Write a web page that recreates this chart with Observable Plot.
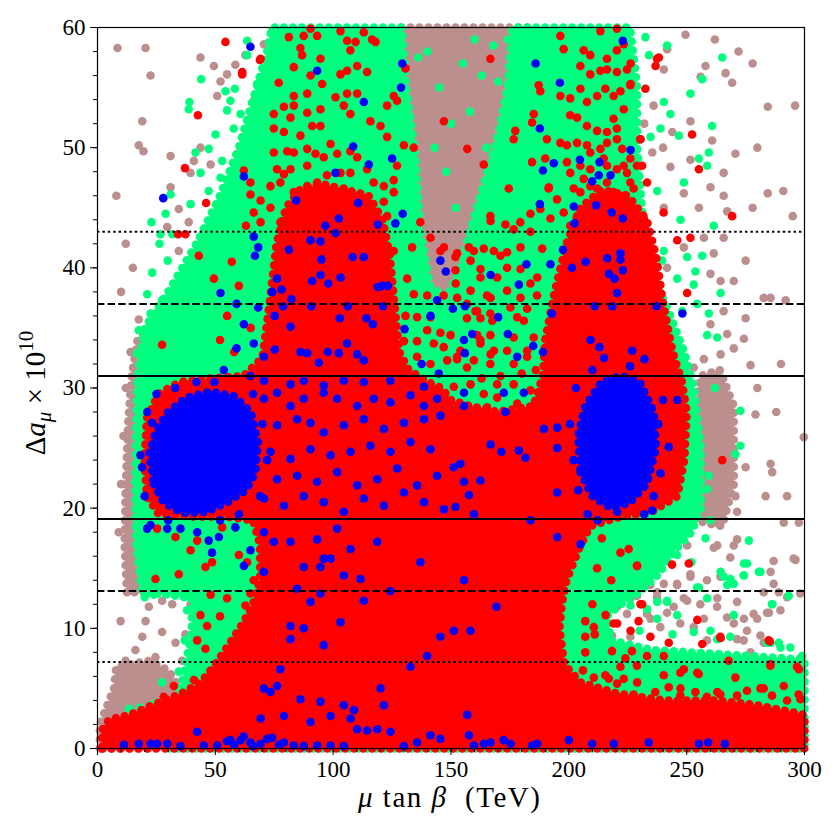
<!DOCTYPE html>
<html><head><meta charset="utf-8">
<script src="https://cdn.jsdelivr.net/npm/d3@7"></script>
<script src="https://cdn.jsdelivr.net/npm/@observablehq/plot@0.6"></script>
<style>body{margin:0;background:#fff} svg{display:block}</style>
</head><body><div id="chart"></div>
<script>
// ---- axes ----
const xTicks = [0,50,100,150,200,250,300];
const yTicks = [0,10,20,30,40,50,60];
const xMinor = d3.range(0,301,10);
const yMinor = d3.range(0,61,2);
// reference bands (1σ solid, 2σ dashed, 3σ dotted)
const refSolid = [19.1, 31.0];
const refDashed = [13.1, 37.0];
const refDotted = [7.2, 43.0];

// ---- dense regions (outlines of crowded point clouds), [x TeV, y] ----
const brownLow = [[1,0],[1,2],[4,3.5],[7,5],[8,6.8],[14,7],[22,7.3],[30,6.5],[35,5],[33,3],[25,0]];
const brownStrip = [[12.5,13],[11.5,17],[12,22],[13,27],[14.5,31],[17,34],[22,35],[22,13]];
const brownTop = [[129,60],[184,60],[180,55],[175,51],[168,48],[162,45],[157,41],[150,37.5],[143,37],[138,40],[136,46],[134,51],[131,56]];
const brownRight = [[253,19],[265,18.5],[270,22],[270,28.5],[264,31.5],[256,31],[252,26]];
const greenBody = [[30,3],[36,5.5],[38,7.5],[40,10],[40,12.5],[30,12.8],[19,13],[16.5,17],[16,22],[16.5,27],[17,31],[20,35],[30,38],[42,42],[52,46],[60,50],[66,54],[72,58],[74,60],[129,60],[131,55],[135,49],[137,43],[141,38.5],[148,37.5],[154,40],[158,43],[164,47],[170,51],[174,55],[176,60],[226,60],[229,55],[229,50],[231,45],[234,40],[242,36.5],[249,33],[253,30],[256,25],[256,20],[252,18],[245,16.5],[238,14.5],[230,13],[222,12],[216,11],[218,9],[235,8.2],[260,7.9],[300,7.4],[300,0],[30,0]];
const redBody = [[2,0],[300,0],[300,2.8],[280,3.6],[262,4.0],[240,4.0],[220,4.6],[205,5.5],[198,7],[196,10],[197,12],[199,14],[204,16.5],[209,18.5],[220,19.2],[235,19.7],[246,21],[249,24],[250,28],[248,30.5],[244,33],[240,37],[237,41],[233,44],[225,46],[214,46.5],[205,45],[199,42],[194,38],[190,34],[189,31],[185,28.5],[170,28],[158,28.5],[150,29],[146,30],[140,30.5],[132,31.5],[128,33],[126,37],[124,41],[121,44],[115,46],[105,46.5],[95,47],[86,46.5],[80,45],[76,42],[73,37],[70,32.5],[62,31],[48,30.8],[35,30.5],[26,29.5],[21,27.5],[20,24],[21,21],[26,19.5],[40,19.3],[55,19.3],[66,19],[69,17],[69,14],[66,12],[62,10.5],[57,9],[50,7],[44,5.5],[36,4.6],[22,3.5],[14,2.8],[5,2.4],[2,1.5]];
const blueLeft = [[24,22],[28,20.5],[36,19.6],[46,19.7],[55,20.5],[63,21.5],[67,23],[68,25.5],[65,28],[58,29.3],[48,29.7],[38,29.2],[30,28],[25,26.5],[22,24.5]];
const blueRight = [[205,23],[210,21],[218,20],[226,20.5],[233,22],[237,25],[236,28],[230,30.5],[222,31],[214,30.5],[207,28.5],[204,26]];

// ---- scattered points ----
const brownDots = [[20.4,58.3],[19,52.2],[17.5,50.2],[31,49.3],[31,46.7],[34.5,44.9],[38.7,43.8],[52.2,55.5],[55,56.1],[58.5,56.9],[62.8,57.7],[70.6,58.6],[76.9,59.6],[66.6,54.0],[50.8,54.3],[39.5,47.9],[40.9,48.9],[43.7,50.0],[48,48.6],[29.6,43.4],[34.5,41.4],[38.7,40.0],[43.7,36.4],[35.2,35.6],[24.6,36.2],[19.7,33.6],[17.5,35.7],[17.5,32.4],[56.4,32.6],[50.8,43.9],[57.8,43.9],[59.3,49.5],[43.7,57.5],[49.4,56.8],[8.5,58.3],[19.5,49.7],[22.5,56],[8,46],[12,42],[15,40],[10,38],
[131.4,52.5],[138.5,54.7],[145.5,55.9],[134.2,58.3],[147,57.2],[132.8,59.5],[185,58],[188,59.5],[176,57],[125,58.5],[127,55],[136,46],[141,43],[163,49],[166,52],[172,54],[180,58.5],[120,59.5],
[9.8,10.6],[13.3,14.3],[20.4,10.6],[27.4,9.7],[33.1,8.8],[37.3,9.5],[41.6,11.5],[16.1,8.2],[19,9.3],[31.7,12.0],[27.4,12.3],[21.8,11.8],[24.6,7.6],[35.9,7.3],[11.9,7.3],[39.5,12.0],[9,18],[10,22],[11,26],[12,30],[14,33],[44,9],[42,13],
[249.5,59.4],[241.7,58.2],[255.9,55.9],[266.5,56.2],[269.3,55.4],[284.4,53.4],[240.3,56.5],[251.6,52.2],[235.4,49.6],[243.9,51.3],[251.6,49.0],[260.8,50.6],[270.7,49.5],[265.7,47.9],[265.7,46],[284.4,46.2],[260.1,46.7],[255.2,45.0],[267.2,44.7],[248.8,46.2],[243.1,48.4],[240.3,45.0],[257.3,42.5],[265.7,42.5],[275,40.6],[261.5,41.2],[248.8,41.7],[241.7,40.0],[260.1,39.5],[264.4,38.9],[270,38.9],[282.7,37.5],[285.6,37.5],[275,35.8],[265.7,36.4],[260.1,35.3],[267.2,34.5],[274.3,34.1],[270,33.3],[277.1,31.9],[264.4,32.8],[257.3,32.4],[253,31.7],[248.8,32.3],[246,31.0],[262,59],[272,58],[278,57],[258,56.8],[232,52],[236,53.5],[240,50],
[279.2,27.8],[285.6,23.7],[286.3,23.0],[292.6,21.0],[283.5,21.0],[275,23.4],[270.7,21.0],[266.5,22.4],[261.5,24.7],[263,26.9],[267.2,26.9],[268.6,25.2],[265.7,19.7],[271.4,19.7],[261.5,18.8],[271.4,17.4],[263,16.9],[291.2,18.8],[297.6,18.8],[296.2,15.7],[285.6,14.7],[282.7,13.0],[289.1,13.0],[279.9,10.8],[284.9,11.3],[271.4,12.2],[274.3,10.8],[263,12.5],[257.3,10.8],[248.8,12.5],[241.7,11.3],[251.6,14.3],[246,13.6],[237.5,13.0],[226.2,12.5],[220.5,11.9],[234.7,10.8],[271.4,9.1],[277.1,8.0],[282.7,8.8],[299.7,25.9],[298.3,7.5],[271.4,5.2],[257.3,27.4],[260.1,29.1],[292,37.3],[295,44.3],[291,46.4],[296,53.5],[290,32],[288,28],[280,30],[278,45],[280,50],
[233.2,17.2],[241.7,17.0],[250.2,16.9],[261.5,16.7],[270,16.9],[268.5,15.9],[264.3,14.3],[258.6,14.0],[251.6,14.5],[245.9,13.7],[240.3,13.7],[234.6,13.6],[226.1,14.0],[223.3,12.9],[228.9,12.7],[237.4,12.6],[244.5,11.8],[250.2,12.3],[255.8,12.0],[262.9,11.8],[267.1,10.9],[270,10.4],[275.6,9.8],[278.4,11.2],[284.1,11.3],[286.9,13.7],[289.8,11.5],[281.3,9.4],[274.2,9.0],[258.6,9.0],[253,10.1],[247.3,10.4],[238.8,10.1],[233.2,11.2],[224.7,11.2],[220.5,11.8],[218.3,9.4],[226.1,9.3],[213.4,9.0],[295.4,15.8],[286.9,15.6],[292.6,12.6],[298.2,12.9]];

const greenDots = [[44.0,55.7],[39.0,53.8],[38.7,53.2],[54.3,54.7],[58.3,54.9],[67.7,55.3],[63.5,58.9],[72,57.2],[55,53.1],[60.7,52.8],[50.1,51.1],[57.8,51.6],[41.6,49.6],[47.2,49.9],[52.9,48.9],[52.2,47.5],[43.7,47.9],[47.2,46.4],[31,46.1],[39.5,45.3],[28.9,44.5],[22.9,43.8],[26.7,42.8],[31.7,42.8],[26.3,42.0],[29.8,40.6],[39.5,40.6],[23.2,39.6],[21.1,37.8],[27.4,37.3],[33.8,38.1],[42.3,38.4],[22.5,36.2],[29.6,35.6],[38,36.8],[17.5,34.8],[26.7,34.2],[33.8,34.0],[16.8,32.9],[50.8,44.5],[46.5,43.1],[53.6,41.7],[56.4,53.9],[63.5,57.7],[74.1,59.7],[81.9,59.0],
[140,58],[145,55],[150,52],[155,57],[160,59],[148,48],[152,45],[143,50],[158,53],[136,57.5],[168,58.5],[174,59],[128,57],[178,57],[176,53],[170,55.5],[163,56],[165,50],[180,59.5],
[232.5,59.2],[234,57.7],[241.7,58.5],[240.3,53.8],[243.1,52.8],[251.6,54.5],[256.6,55.7],[265.1,57.5],[260.8,51.8],[246.7,51.0],[255.2,49.1],[258.7,48.5],[259.4,49.6],[248.8,47.1],[237.5,46.4],[247.4,44.0],[261.5,43.5],[234.7,50.9],[238.9,51.6],[240.3,41.4],[250.2,40.9],[256.6,41.0],[239.6,40.6],[246,39.1],[253.7,39.7],[253.0,38.6],[236.1,38.5],[264.4,37.9],[254.5,37.0],[248.1,36.4],[259.4,36.2],[237.5,35.5],[243.1,34.5],[258.7,34.4],[263,34.2],[233.2,32.8],[238.9,31.7],
[272.8,28.1],[272.8,25.2],[270.7,24.5],[259.4,22.7],[258.7,21.6],[276.4,17.3],[274.3,15.4],[280.6,14.7],[274.3,14.4],[268.6,14.1],[286.3,12.0],[293.3,12.7],[237.5,12.2],[241.7,12.2],[255.2,13.4],[270.0,11.1],[253.0,9.7],[263,9.1],[285.6,8.8],[289.1,8.8],[299,7.7],[237.5,10.8],[246,11.1],[233.2,11.6],[226.2,11.9],[264.4,14.7],[267.2,13.6],[258.7,12.5],[262,30],[260,19],[245,18.5],
[238.8,16.5],[245.9,16.1],[275.6,15.4],[281.3,14.7],[274.2,14.4],[265.7,14.3],[270,13.7],[254.4,13.4],[286.2,12.0],[241.7,12.3],[260.1,9.8],[268.5,9.3],[284.1,8.8],[289.8,8.4],[294,8.4],[219,14.5],[223.3,15.1],[213.4,14.2],[207.7,15.1],[214.8,15.6],[258,17.5],[252,15.5],[230,9.8],[244,9.5],
[13.3,3.3],[22.5,3.6],[27.4,5.5],[34.5,6.4],[40.9,7.5],[42.3,8.8],[20,12.6],[24,12.8],[43.7,10.5],[14,1.1],[3.4,0.8],[18,3.4],[25,3.8],[37,9],[38,11.5]];

const redDots = [[54.3,58.8],[68.9,57.3],[61.4,56.1],[42.6,52.7],[37.1,48.3],[46.1,45.4],[43.0,41.0],[49.4,39.1],[27.4,33.6],[34.2,42.8],[37.3,42.8],[137.0,43.8],[141.3,42.5],[147.0,52.2],[147.0,41.7],[62.1,48.1],[64.9,46.1],[69.2,45.6],[73.4,45.0],
[90.4,59.9],[103.1,59.7],[113.0,59.6],[81.2,59.2],[87.5,59.3],[93.2,59.3],[105.9,58.9],[109.5,58.8],[116.5,59.0],[118,58.8],[69.2,57.4],[61.4,56.3],[86.1,58.3],[86.8,57.7],[94.6,57.4],[107.3,58.1],[130.7,56.6],[83.3,56.7],[90.4,56.0],[95.3,55.3],[103.1,56.1],[105.9,56.4],[110.2,56.8],[114.4,56.3],[76.9,55.4],[83.3,54.3],[89.0,54.5],[94.6,53.2],[101.0,54.2],[105.9,54.5],[110.2,54.5],[125.7,54.3],[127.1,53.9],[79.1,53.4],[83.3,53.5],[74.8,52.8],[81.9,52.5],[89.0,52.9],[91.1,51.8],[94.6,51.8],[104.5,53.5],[107.3,52.8],[115.8,52.2],[122.9,53.5],[74.8,51.6],[79.1,51.3],[86.1,51.0],[98.9,50.3],[101.7,49.5],[107.3,49.7],[110.2,49.2],[120.1,51.8],[122.9,50.9],[130.0,50.2],[134.2,50.0],[80.5,49.7],[83.3,49.6],[89.0,49.9],[92.5,49.5],[96.0,49.2],[74.8,49.6],[76.2,48.2],[79.1,47.8],[81.9,48.2],[89.0,48.5],[93.2,47.1],[97.4,47.7],[103.1,47.9],[107.3,47.9],[114.4,48.2],[127.1,48.5],[125.7,47.3],[64.9,47.1],[73.4,46.8],[77.6,47.1],[83.3,46.3],[89.0,46.8],[94.6,46.6],[98.9,46.3],[104.5,46.6],[117.2,47.1],[121.5,46.8],[125.7,46.3],[66.3,44.6],[69.2,43.8],[77.6,43.8],[122.9,44.3],[117.2,44.1],[121.5,45.5],
[55,36],[60,38.5],[52,34],[65,35],[57,40.5],[63,43.5],[58,33],
[125.7,41.4],[133.5,41.7],[145.5,41.4],[151.9,40.9],[159.7,41.4],[168.2,41.4],[173.8,41.3],[179.5,41.7],[188.7,41.6],[158.3,40.6],[151.9,39.8],[162.5,39.9],[169.6,39.2],[179.5,39.9],[131.4,39.1],[134.2,37.8],[139.9,37.7],[146.9,37.7],[158.3,38.1],[165.3,37.7],[156.8,37.0],[173.8,38.1],[183.7,38.7],[186.5,37.7],[175.2,36.7],[182.3,36.6],[161.1,36.4],[130.7,36.0],[135.6,35.9],[141.3,35.9],[156.8,35.8],[162.5,35.8],[166.7,36.2],[180.9,35.6],[139.9,34.8],[145.5,34.6],[149.8,34.4],[166.7,34.4],[161.1,34.4],[176.6,34.2],[185.1,34.2],[130,33.9],[135.6,33.9],[142.7,33.7],[146.9,33.4],[154,33.1],[162.5,33.7],[168.2,33.1],[173.8,33.1],[182.3,33.1],[141.3,32.0],[148.4,32.3],[152.6,32.4],[159.7,32.3],[166.7,32.0],[176.6,32.0],[135.6,32.6],[156.8,31.7],[171,31],[180,31.2],[186,31.5],[163,30.8],
[151.2,30.1],[158.3,30.3],[163.9,29.5],[169.6,30.3],[176.6,30.3],[183.7,29.8],[152.6,28.4],[159.7,27.8],[165.3,28.4],[169.6,29.2],[178.1,28.7],[185.1,28.4],
[24.6,14.1],[34.5,14.5],[39.5,16.5],[45.8,15.1],[48.6,15.5],[25.3,18.3],[33.1,17.6],[42.3,17.3],[52.9,18.4],[60,16.1],[63.5,15.5],[66.3,14.0],[64.9,12.9],[62.8,11.9],[42.3,9.0],[45.8,8.3],[48,6.4],[40.9,5.7],[32.4,5.2],[28.1,4.3],[46.5,10.2],[43.7,11.1],[52,11],[55,12.5],[48,12.8],
[265.1,24.0],[243.8,15.3],[250.9,15.4],[229,15.2],[231.1,12.0],[254.5,10.7],[215.6,11.1],[220.5,10.4],[226.2,9.8],[242.4,8.8],[248.8,6.6],[254.5,6.3],[256.6,8.7],[264.4,9.2],[285.3,8.9],[285.6,7.0],[297.6,6.6],[224,7.5],[217,5.8],[223.3,5.8],[229,5.5],[240.3,6.1],[247.4,5.0],[263,4.7],[271.4,4.4],[282.7,5.0],[291.2,5.2],[298.3,4.1],[234.7,4.0],[207,8],[210,12],[212,15],[206,6.5],[214,17.5],[218,14],[211,9.5],
[221.9,16.3],[225.4,16.6],[228.9,15.2],[230.4,12.0],[229.6,10.6],[234.6,9.3],[264.3,9.3],[284.8,9.0],[226.8,8.1],[233.2,7.7],[240.3,7.7],[228.9,6.9],[221.9,6.8],[215.5,6.1],[210.6,5.9],[220.5,5.4],[227.5,4.5],[236.7,4.7],[242.4,5.1],[247.3,4.4],[253.7,4.7],[258.6,4.3],[264.3,4.5],[270.7,5.9],[275.6,4.8],[281.3,5.0],[286.2,4.4],[292.6,4.0],[297.5,4.5],[207,10.6],[207,9.3],[210.6,10.1],[218.3,8.1],[219,10.4],[267.8,7.3],[285.5,6.9],[296.8,6.8],[255.1,6.2],[247.3,6.3],
[238.2,57.5],[236.8,56.8],[226.2,57.0],[226.2,55.3],[252.3,51.1],[255.2,48.2],[269.3,44.3],[230.4,50.7],[231.1,48.5],[156.9,49.9],[163.9,48.6],[174.5,46.6],[191.5,46.7],[183.7,44.5],[166.8,43.9],[173.1,43.6],[157.6,41.7],[163.9,41.6],[171.0,41.0],[152.6,41.2],[152,38.7],[162.5,39.2],[173.8,40.0],[186.6,39.2],[166.8,37.5],[179.5,37.5],[152.6,37.5],[160.4,36.4],[167.5,35.6],[178.1,35.9],[192.2,35.6],[162.5,34],[152.6,32.6],[166.8,32.8],[182.3,32.6],[250.2,37.9],[246.0,42.3],[251.6,42.5],
[196.4,59.3],[197.8,58.2],[206.3,58.1],[209.1,57.7],[216.2,57.4],[220.4,58.1],[223.3,58.6],[220.4,59.9],[213.4,59.7],[204.9,56.8],[209.1,56.1],[213.4,56.4],[216.2,56.5],[220.4,56.3],[224.7,56.5],[226.1,55.2],[232.5,54.9],[187.2,55.2],[187.9,54.7],[196.4,54.3],[200.6,54.1],[204.9,54.9],[207.7,53.8],[212.0,54.3],[215.5,54.9],[219.0,54.3],[221.9,54.7],[223.3,53.2],[200.6,52.7],[203.5,52.5],[207.7,51.8],[212.0,51.4],[216.2,51.3],[220.4,51.6],[219.0,52.4],[185.1,52.8],[184.4,52.1],[177.3,51.4],[176.6,50.7],[190.7,50.7],[196.4,50.4],[199.2,50.2],[203.5,50.4],[207.7,50.2],[209.1,49.6],[213.4,49.9],[216.2,50.4],[220.4,50.7],[222.6,49.9],[230.3,50.7],[226.1,49.1],[223.3,48.5],[184.4,48.8],[190.0,49.1],[199.2,48.8],[200.6,47.9],[204.9,48.5],[206.3,47.4],[209.1,48.2],[214.8,49.1],[216.2,48.5],[220.4,48.2],[224.7,47.9],[226.1,47.1],[228.9,48.5],[233.2,47.1],[202.1,46.6],[204.9,46.3],[209.1,46.8],[212.0,46.6],[216.2,47.1],[219.0,46.3],[223.3,46.0],[227.5,46.6],[195.0,45.7],[191.4,46.6],[187.9,44.9],[192.2,44.1],[197.8,44.6],[200.6,43.5],[203.5,44.3],[207.7,43.8],[212.0,44.6],[216.2,44.1],[220.4,43.8],[223.3,44.9],[227.5,44.6],[231.8,44.1],[237.4,57.4],[240.2,44.6],[166.7,57.4],[166.7,44.3],[176.6,43.2],[183.7,43.0],[179.4,43.8]];

const blueDots = [[70.6,29.1],[76.2,29.6],[81.9,28.5],[87.5,29.1],[96.0,29.6],[101.7,29.1],[110.2,28.5],[117.2,29.1],[124.3,28.8],[132.8,29.4],[138.5,28.5],[144.1,29.1],[76.2,26.9],[84.7,27.4],[90.4,27.1],[96.0,26.3],[104.5,26.9],[113.0,27.4],[121.5,26.6],[130.0,27.1],[138.5,27.4],[145.5,27.7],[73.4,24.7],[81.9,24.1],[90.4,24.9],[98.9,24.4],[107.4,24.7],[115.8,25.2],[124.3,24.7],[132.8,25.5],[141.3,24.9],[76.2,22.4],[84.7,22.7],[93.2,22.2],[101.7,23.0],[110.2,21.9],[118.7,22.4],[127.2,23.3],[135.6,21.9],[144.1,22.7],[70.6,20.8],[79.1,20.2],[87.5,21.0],[96.0,20.5],[104.5,19.7],[113.0,20.8],[121.5,20.2],[130.0,21.3],[138.5,20.5],[147.0,19.9],
[70.6,18.0],[74.8,17.2],[81.9,17.2],[93.2,17.4],[96.0,15.8],[101.7,18.3],[107.4,16.6],[118.7,17.2],[137.0,15.5],[87.5,15.1],[94.6,15.1],[98.9,15.8],[104.5,14.4],[111.6,14.1],[70.6,14.7],
[84.7,13.3],[90.4,12.2],[94.6,12.9],[113.0,12.3],[81.9,10.2],[87.5,10.0],[96.0,8.6],[103.1,10.5],[124.3,13.1],
[81.9,9.1],[77.6,6.6],[70.6,5.0],[76.2,5.2],[86.1,4.1],[94.6,3.9],[98.9,2.7],[104.5,3.6],[108.8,3.2],[90.4,2.2],[120.1,5.0],[121.5,3.6],[132.8,6.8],[139.9,7.7],[145.5,9.3],[107.4,2.5],[73.4,4.7],[79.1,2.7],[69.2,2.5],[42.3,1.4],
[11.2,0.3],[17.5,0.4],[22.5,0.4],[25.3,0.4],[29.6,0.4],[35.2,0.2],[45.1,0.25],[50.8,0.25],[56.4,0.7],[60.7,0.7],[64.9,0.5],[69.2,0.4],[74.1,0.9],[79.1,0.5],[83.3,0.25],[87.5,0.2],[93.2,0.25],[98.9,0.25],[104.5,0.2],[110.2,1.6],[114.4,1.5],[118.7,1.6],[124.3,1.4],[130.0,0.2],[135.6,0.5],[141.3,1.1],[145.5,0.8],[55,0.6],[58,0.3],[62,1.0],[66,0.2],[72,0.8],[77,0.3],
[22.5,18.6],[29.6,18.3],[35.2,18.3],[42.3,18.0],[47.2,17.3],[48.6,16.3],[51.5,17.6],[58.5,18.4],[62.1,15.2],[64.9,16.5],[18.2,24.4],[18.9,23.4],[21.1,28.0],[23.2,27.1],[21.1,18.3],
[70,27],[72,24],[69,21],[25,29.5],[33,30],[42,30.5],[20,21],[30,19],[52,19],[60,19.5],[66,29.5],
[64.9,58.4],[93.2,56.4],[129.3,57.0],[128.8,55.0],[113.0,53.8],[27.9,45.8],[62.1,47.6],[108.5,50.1],[115.1,48.6],[125.0,49.1],[101.0,47.9],[84.3,45.6],[110.6,45.4],[96.7,43.5],[102.4,44.1],[118.9,43.6],[126.4,43.7],[129.5,44.5],[66.3,42.6],[68.2,41.7],[66.8,41.0],[81.2,41.5],[90.4,42.3],[94.6,42.2],[95.0,40.7],[101.0,42.9],[108.3,40.9],[113.0,40.9],[145.5,40.6],[147.8,39.7],[76.2,39.1],[91.1,38.9],[94.6,39.4],[97.9,38.7],[103.1,39.2],[118.9,38.4],[120.8,38.5],[123.2,38.5],[74.1,38.0],[78.1,38.2],[52.2,37.9],[82.3,37.4],[59.0,37.0],[68.2,36.7],[78.8,36.8],[90.7,36.8],[106.2,36.8],[121.2,36.8],[144.1,37.3],[62.1,35.3],[75.2,36.0],[81.9,35.1],[102.8,35.8],[114.1,35.8],[116.8,35.3],[130.3,34.9],[141.3,36.0],[59.0,33.3],[66.3,33.7],[70.6,32.6],[75.2,33.2],[86.1,33.0],[89.0,32.9],[93.9,32.1],[97.7,33.0],[102.4,32.9],[105.9,33.7],[110.2,32.8],[113.0,32.3],[137.5,32.0],[144.8,31.2],[53.6,31.5],[49.6,30.5],[64.9,31.0],[70.6,30.6],[81.9,30.3],[87.5,30.6],[96,30.2],[104.5,30.6],[113,30.5],[124.3,30.6],[138.5,30.1],
[222.9,58.9],[185.9,57.0],[196.2,55.4],[187.7,51.6],[226.2,49.8],[193.6,48.7],[204.7,49.0],[213.0,48.8],[189.0,48.1],[212.7,47.7],[217.7,47.7],[209.9,47.2],[187.7,45.3],[202.1,45.1],[211.6,45.2],[218.2,44.6],[222.9,44.1],[202.4,43.7],[197.5,41.5],[182.0,40.3],[192.2,40.3],[216.3,40.8],[221.9,41.2],[221.9,40.7],[207.1,40.5],[201.3,40.0],[166.8,39.4],[178.8,38.6],[217.0,39.5],[219.4,39.1],[222.9,39.8],[220.5,37.9],[150.8,36.6],[155.9,36.8],[170.0,35.9],[211.0,36.8],[218.4,36.8],[192.7,36.2],[237.2,36.8],[248.2,36.2],[159.0,34.5],[155.5,34.0],[155.9,32.9],[174.1,34.5],[184.9,33.5],[189.0,33.0],[178.1,32.6],[209.2,34.0],[213.0,33.4],[214.9,32.5],[226.9,33.1],[232.1,32.4],
[155.5,29.6],[172.4,29.6],[180.9,29.6],[155.5,28.5],[173.1,28.0],[166.8,25.3],[171.4,24.7],[178.8,24.8],[181.6,24.2],[189.4,26.6],[195.1,26.7],[195.1,25.0],[151.2,23.4],[154.0,23.7],[155.5,22.2],[162.5,22.3],[157.6,21.1],[159.7,19.5],[151.9,20.1],[195.1,21.3],[183.7,19.0],[195.1,17.6],[205.0,17.0],[155.5,14.0],[169.3,11.8],[151.2,9.8],[158.3,9.8],[156.9,2.8],
[157.6,1.1],[159.7,0.25],[163.9,0.4],[166.8,0.5],[172.4,0.7],[175.3,0.4],[184.4,0.25],[186.6,0.4],[200.0,0.7],[209.9,0.4],[219.1,0.4],[233.9,0.5],[255.2,0.4],[259.1,0.5],[266.2,0.4],
[246.0,29.0],[242.4,25.1],[238.9,22.9],[235.4,19.8],[212.2,19.0],[220.5,19.7],[200.5,27],[202,24],[204,21.5],[238,27],[236,21],[203,30],[210,31.5],[226,31.8],[240,29],[232,19.5],[208,19.5]];

// ---- colours ----
const cBrown = "#bc8f8f", cGreen = "#00ff7f", cRed = "#ff0000", cBlue = "#0000ff";

const area = (pts, c) => Plot.line(pts, {x: d => d[0], y: d => d[1], curve: "linear-closed",
  fill: c, stroke: c, strokeWidth: 8.6, strokeDasharray: "0,9", strokeLinecap: "round", strokeLinejoin: "round"});
const pts = (arr, c) => Plot.dot(arr, {x: d => d[0], y: d => d[1], r: 4.3, fill: c});

const chart = Plot.plot({
  width: 840, height: 840,
  marginLeft: 97, marginRight: 36, marginTop: 27, marginBottom: 92,
  x: {domain: [0, 300]},
  y: {domain: [0, 60]},
  style: {fontFamily: "'Liberation Serif', serif", fontSize: "23px", background: "white", color: "black"},
  marks: [
    area(brownLow, cBrown), area(brownStrip, cBrown), area(brownTop, cBrown), area(brownRight, cBrown),
    pts(brownDots, cBrown),
    area(greenBody, cGreen),
    pts(greenDots, cGreen),
    area(redBody, cRed),
    pts(redDots, cRed),
    area(blueLeft, cBlue), area(blueRight, cBlue),
    pts(blueDots, cBlue),
    Plot.ruleY(refSolid, {stroke: "black", strokeWidth: 2}),
    Plot.ruleY(refDashed, {stroke: "black", strokeWidth: 2, strokeDasharray: "7.4,3.2"}),
    Plot.ruleY(refDotted, {stroke: "black", strokeWidth: 2, strokeDasharray: "2.4,3"}),
    Plot.frame({stroke: "black", strokeWidth: 1.2}),
    Plot.axisX(xMinor, {tickSize: 4, tickFormat: () => "", label: null}),
    Plot.axisY(yMinor, {tickSize: 4, tickFormat: () => "", label: null}),
    Plot.axisX(xTicks, {tickSize: 7, tickPadding: 5, fontSize: 23, label: null}),
    Plot.axisY(yTicks, {tickSize: 7, tickPadding: 5, fontSize: 23, label: null})
  ]
});

const svg = d3.select(chart);
const fam = "'Liberation Serif', serif";
// x label: μ tan β (TeV)
const xl = svg.append("text").attr("x", 449).attr("y", 807).attr("text-anchor", "middle")
  .attr("font-family", fam).attr("font-size", 29).attr("fill", "black")
  .attr("textLength", 182).attr("lengthAdjust", "spacing");
xl.append("tspan").attr("font-style", "italic").text("μ");
xl.append("tspan").text(" tan ");
xl.append("tspan").attr("font-style", "italic").text("β");
xl.append("tspan").text("  (TeV)");
// y label: Δa_μ × 10^10
const yl = svg.append("text").attr("transform", "translate(45,393) rotate(-90)").attr("text-anchor", "middle")
  .attr("font-family", fam).attr("font-size", 29).attr("fill", "black");
yl.append("tspan").text("Δ");
yl.append("tspan").attr("font-style", "italic").text("a");
yl.append("tspan").attr("font-style", "italic").attr("font-size", 21).attr("dy", 6).text("μ");
yl.append("tspan").attr("dy", -6).text(" × 10");
yl.append("tspan").attr("font-size", 21).attr("dy", -12).text("10");

document.getElementById("chart").appendChild(chart);
</script>
</body></html>
